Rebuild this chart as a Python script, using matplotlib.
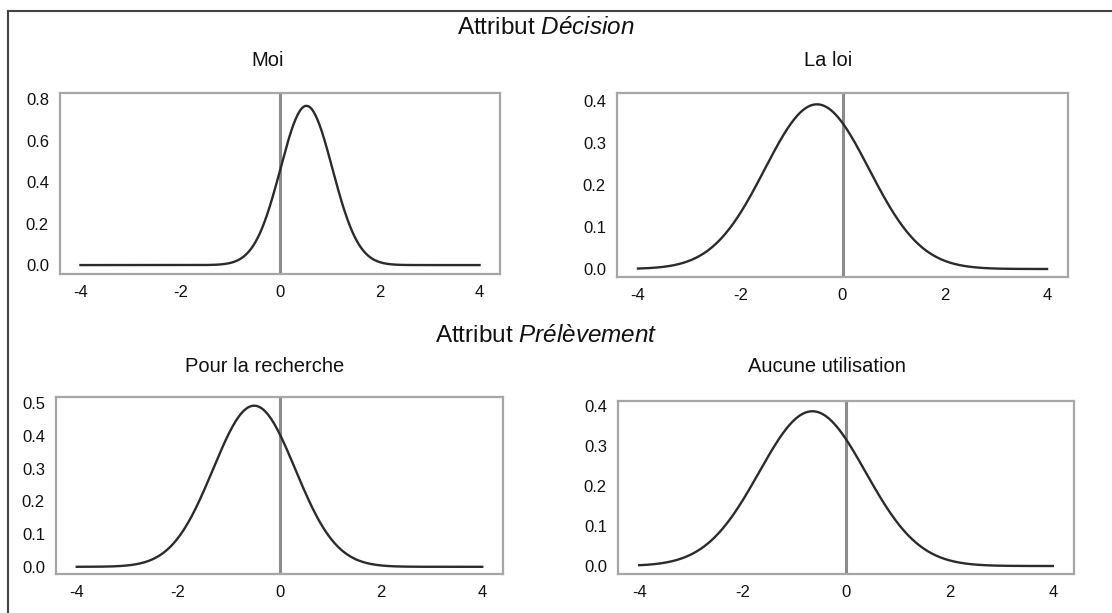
import numpy as np
import matplotlib
matplotlib.use("Agg")
import matplotlib.pyplot as plt
from matplotlib import font_manager as fm

# ---- data ----
section_titles = ["Décision", "Prélèvement"]
panel_titles = ["Moi", "La loi", "Pour la recherche", "Aucune utilisation"]
means = [0.53, -0.50, -0.50, -0.65]
sds = [0.52, 1.02, 0.81, 1.03]
ytick_steps = [0.2, 0.1, 0.1, 0.1]
ytick_max = [0.8, 0.4, 0.5, 0.4]
xticks = [-4, -2, 0, 2, 4]
x_range = (-4, 4)

# ---- font ----
names = {f.name for f in fm.fontManager.ttflist}
FONT = "Liberation Sans Narrow" if "Liberation Sans Narrow" in names else "Liberation Sans"
plt.rcParams["font.family"] = [FONT, "DejaVu Sans"]
plt.rcParams["mathtext.fontset"] = "custom"
plt.rcParams["mathtext.rm"] = FONT
plt.rcParams["mathtext.it"] = FONT + ":italic"

W, H = 1112, 613
fig = plt.figure(figsize=(W / 100, H / 100), dpi=100)

def px_axes(x0, y0, x1, y1):
    return fig.add_axes([x0 / W, 1 - y1 / H, (x1 - x0) / W, (y1 - y0) / H])

boxes = [(60, 93, 500, 274), (617, 93, 1068, 277), (56, 397, 503, 574), (618, 401, 1074, 574)]
ylims = [(-0.043, 0.829), (-0.019, 0.418), (-0.022, 0.519), (-0.020, 0.413)]
title_pos = [(268, 60), (828, 60), (265, 367), (827, 367)]

for i, (box, title) in enumerate(zip(boxes, panel_titles)):
    ax = px_axes(*box)
    x = np.linspace(x_range[0], x_range[1], 400)
    y = np.exp(-0.5 * ((x - means[i]) / sds[i]) ** 2) / (sds[i] * np.sqrt(2 * np.pi))
    ax.axvline(0, color="#8c8c8c", lw=2.2, zorder=1)
    ax.plot(x, y, color="#2b2b2b", lw=1.7, zorder=2)
    ax.set_xlim(-4.41, 4.41)
    ax.set_ylim(*ylims[i])
    ax.set_xticks(xticks)
    ax.set_xticklabels([str(t) for t in xticks])
    yt = np.round(np.arange(0, ytick_max[i] + 1e-9, ytick_steps[i]), 2)
    ax.set_yticks(yt)
    ax.set_yticklabels([f"{v:.1f}" for v in yt])
    ax.tick_params(length=0, labelsize=12, colors="#111111", pad=8)
    for s in ax.spines.values():
        s.set_color("#a6a6a6")
        s.set_linewidth(1.6)
    tx, ty = title_pos[i]
    fig.text(tx / W, 1 - ty / H, title, ha="center", va="center",
             fontsize=14.5, color="#111111")

fig.text(546 / W, 1 - 28 / H, r"Attribut $\mathit{" + section_titles[0] + "}$",
         ha="center", va="center", fontsize=17.5, color="#111111")
fig.text(546 / W, 1 - 336 / H, r"Attribut $\mathit{" + section_titles[1] + "}$",
         ha="center", va="center", fontsize=17.5, color="#111111")

# frame lines (left and top)
fig.add_artist(plt.Line2D([7.5 / W, 7.5 / W], [0, 1 - 11 / H], color="#444444", lw=1.5))
fig.add_artist(plt.Line2D([7.5 / W, 1], [1 - 11 / H, 1 - 11 / H], color="#444444", lw=1.5))

fig.savefig("out.png", dpi=100)
